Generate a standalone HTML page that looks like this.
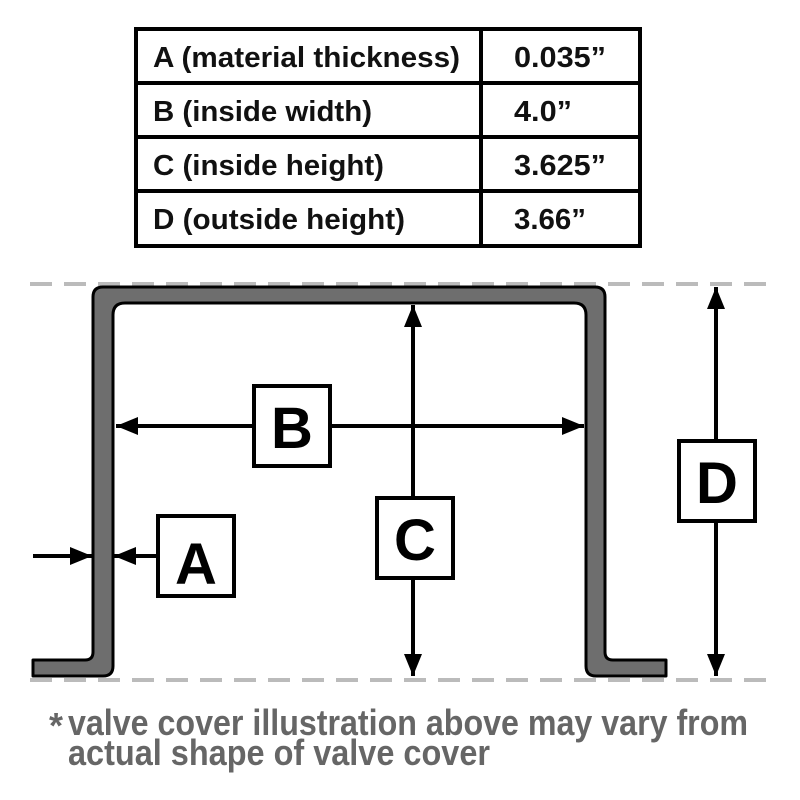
<!DOCTYPE html>
<html><head><style>body{margin:0;background:#fff}svg{display:block}</style></head>
<body>
<svg width="800" height="800" viewBox="0 0 800 800" xmlns="http://www.w3.org/2000/svg" font-family="Liberation Sans, Arial, sans-serif" font-weight="bold">
<defs>
<marker id="ah" viewBox="0 0 10 10" refX="10" refY="5" markerWidth="5.5" markerHeight="4.5" orient="auto-start-reverse" markerUnits="strokeWidth" preserveAspectRatio="none"><path d="M0,0 L10,5 L0,10 z" fill="#000"/></marker>
</defs>
<!-- table -->
<g fill="none" stroke="#000" stroke-width="4">
<rect x="136" y="29" width="504" height="217"/>
<line x1="481" y1="29" x2="481" y2="246"/>
<line x1="136" y1="83" x2="640" y2="83"/>
<line x1="136" y1="137" x2="640" y2="137"/>
<line x1="136" y1="191" x2="640" y2="191"/>
</g>
<g font-size="29" fill="#111" lengthAdjust="spacingAndGlyphs">
<text x="153" y="67" textLength="307" lengthAdjust="spacingAndGlyphs">A (material thickness)</text>
<text x="153" y="121" textLength="219" lengthAdjust="spacingAndGlyphs">B (inside width)</text>
<text x="153" y="175" textLength="231" lengthAdjust="spacingAndGlyphs">C (inside height)</text>
<text x="153" y="229" textLength="252" lengthAdjust="spacingAndGlyphs">D (outside height)</text>
<text x="514" y="67" textLength="92" lengthAdjust="spacingAndGlyphs">0.035”</text>
<text x="514" y="121" textLength="58" lengthAdjust="spacingAndGlyphs">4.0”</text>
<text x="514" y="175" textLength="92" lengthAdjust="spacingAndGlyphs">3.625”</text>
<text x="514" y="229" textLength="72" lengthAdjust="spacingAndGlyphs">3.66”</text>
</g>
<!-- dashed lines -->
<g stroke="#bbb" stroke-width="4" stroke-dasharray="22,12">
<line x1="30" y1="284" x2="770" y2="284"/>
<line x1="30" y1="680" x2="770" y2="680"/>
</g>
<!-- shape -->
<path d="M33,660 L85,660 Q93,660 93,652 L93,297 Q93,287 103,287 L595,287 Q605,287 605,297 L605,652 Q605,660 613,660 L666,660 L666,676 L596,676 Q586,676 586,666 L586,315 Q586,303 574,303 L125,303 Q113,303 113,315 L113,666 Q113,676 103,676 L33,676 Z" fill="#6e6e6e" stroke="#000" stroke-width="3" stroke-linejoin="round"/>
<!-- arrows -->
<g stroke="#000" stroke-width="4" fill="none">
<line x1="116" y1="426" x2="584" y2="426" marker-start="url(#ah)" marker-end="url(#ah)"/>
<line x1="413" y1="305" x2="413" y2="676" marker-start="url(#ah)" marker-end="url(#ah)"/>
<line x1="716" y1="287" x2="716" y2="676" marker-start="url(#ah)" marker-end="url(#ah)"/>
<line x1="33" y1="556" x2="92" y2="556" marker-end="url(#ah)"/>
<line x1="157" y1="556" x2="114" y2="556" marker-end="url(#ah)"/>
</g>
<!-- boxes -->
<g fill="#fff" stroke="#000" stroke-width="4">
<rect x="254" y="386" width="76" height="80"/>
<rect x="377" y="498" width="76" height="80"/>
<rect x="679" y="441" width="76" height="80"/>
<rect x="158" y="516" width="76" height="80"/>
</g>
<g font-size="58" text-anchor="middle" fill="#000">
<text x="292" y="448">B</text>
<text x="415" y="560">C</text>
<text x="717" y="503">D</text>
<text x="196" y="584">A</text>
</g>
<!-- footnote -->
<g fill="#666" font-size="36">
<text x="49" y="738">*</text>
<text x="68" y="735" textLength="680" lengthAdjust="spacingAndGlyphs">valve cover illustration above may vary from</text>
<text x="68" y="765" textLength="422" lengthAdjust="spacingAndGlyphs">actual shape of valve cover</text>
</g>
</svg>
</body></html>
